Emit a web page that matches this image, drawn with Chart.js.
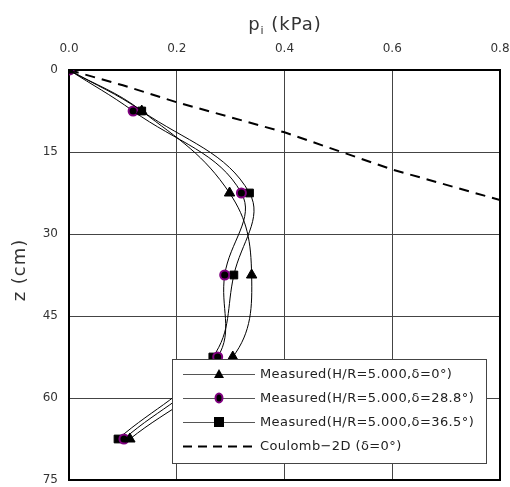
<!DOCTYPE html>
<html>
<head>
<meta charset="utf-8">
<script src="https://cdn.jsdelivr.net/npm/chart.js@4"></script>
<style>
  html, body { margin: 0; padding: 0; background: #fff; }
  #wrap { width: 510px; height: 487px; }
</style>
</head>
<body>
<div id="wrap"><canvas id="myChart" width="510" height="487"></canvas></div>
<script>
// depths (cm)
const depths = [0, 7.5, 22.5, 37.5, 52.5, 67.5];

// measured pressures (kPa)
const p_d0 = [0, 0.135, 0.298, 0.339, 0.304, 0.113];
const p_d288 = [0, 0.119, 0.320, 0.289, 0.276, 0.102];
const p_d365 = [0, 0.135, 0.335, 0.306, 0.267, 0.091];

// Coulomb-2D line
const coulombP = [0, 0.1, 0.2, 0.4, 0.6, 0.8];
const coulombZ = [0, 2.8, 5.9, 11.4, 18.2, 23.8];

const xTicks = [0, 0.2, 0.4, 0.6, 0.8];
const yTicks = [0, 15, 30, 45, 60, 75];

const legendLabels = [
  'Measured(H/R=5.000,\u03b4=0\u00b0)',
  'Measured(H/R=5.000,\u03b4=28.8\u00b0)',
  'Measured(H/R=5.000,\u03b4=36.5\u00b0)',
  'Coulomb\u22122D (\u03b4=0\u00b0)'
];

function pts(xs, ys) {
  return xs.map((v, i) => ({x: v, y: ys[i]}));
}

const font = '"DejaVu Sans", sans-serif';

const frame = {
  id: 'frame',
  beforeDatasetsDraw(chart) {
    const a = chart.chartArea, c = chart.ctx;
    c.save();
    c.strokeStyle = '#000';
    c.lineWidth = 2;
    c.strokeRect(a.left, a.top, a.right - a.left, a.bottom - a.top);
    c.restore();
  },
  afterDraw(chart) {
    const c = chart.ctx;
    c.save();
    c.letterSpacing = '1px';
    // x title with subscript
    c.fillStyle = '#333';
    c.textBaseline = 'alphabetic';
    c.font = '18px ' + font;
    const w1 = c.measureText('p').width;
    c.font = '11px ' + font;
    const w2 = c.measureText('i').width;
    c.font = '18px ' + font;
    const w3 = c.measureText(' (kPa)').width;
    let x0 = 285 - (w1 + w2 + w3) / 2;
    c.fillText('p', x0, 30);
    c.font = '11px ' + font;
    c.fillText('i', x0 + w1, 34);
    c.font = '18px ' + font;
    c.fillText(' (kPa)', x0 + w1 + w2, 30);
    // y title
    c.translate(25, 270);
    c.rotate(-Math.PI / 2);
    c.textAlign = 'center';
    c.fillText('z (cm)', 0, 0);
    c.restore();

    // legend
    c.save();
    const lx = 172, ly = 359, lw = 314, lh = 104;
    c.fillStyle = '#fff';
    c.fillRect(lx, ly, lw, lh);
    c.strokeStyle = '#444';
    c.lineWidth = 1;
    c.strokeRect(lx + 0.5, ly + 0.5, lw, lh);
    const rows = [374, 398, 422, 446];
    rows.forEach((ry, i) => {
      c.strokeStyle = i < 3 ? '#555' : '#000';
      c.lineWidth = i < 3 ? 1 : 2;
      c.setLineDash(i < 3 ? [] : [9, 6]);
      c.beginPath();
      c.moveTo(183, ry + 0.5);
      c.lineTo(255, ry + 0.5);
      c.stroke();
      c.setLineDash([]);
      const cx = 219;
      if (i === 0) {
        c.fillStyle = '#000';
        c.beginPath();
        c.moveTo(cx, ry - 5); c.lineTo(cx + 5, ry + 4); c.lineTo(cx - 5, ry + 4);
        c.closePath(); c.fill();
      } else if (i === 1) {
        c.fillStyle = '#000';
        c.strokeStyle = '#800080';
        c.lineWidth = 2;
        c.beginPath(); c.ellipse(cx, ry, 3.5, 4.5, 0, 0, Math.PI * 2);
        c.fill(); c.stroke();
      } else if (i === 2) {
        c.fillStyle = '#000';
        c.fillRect(cx - 5, ry - 5, 10, 10);
      }
      c.fillStyle = '#222';
      c.font = '13px ' + font;
      c.letterSpacing = '0.4px';
      c.textBaseline = 'middle';
      c.fillText(legendLabels[i], 260, ry + 1);
      c.letterSpacing = '0px';
    });
    c.restore();
  }
};

new Chart(document.getElementById('myChart'), {
  type: 'scatter',
  data: {
    datasets: [
      {
        label: legendLabels[0],
        data: pts(p_d0, depths),
        showLine: true, tension: 0.4,
        borderColor: '#000', borderWidth: 1,
        pointStyle: 'triangle', pointRadius: 6,
        pointBackgroundColor: '#000', pointBorderColor: '#000', pointBorderWidth: 1
      },
      {
        label: legendLabels[1],
        data: pts(p_d288, depths),
        showLine: true, tension: 0.4,
        borderColor: '#000', borderWidth: 1,
        pointStyle: 'circle', pointRadius: 4.5,
        pointBackgroundColor: '#000', pointBorderColor: '#800080', pointBorderWidth: 2
      },
      {
        label: legendLabels[2],
        data: pts(p_d365, depths),
        showLine: true, tension: 0.4,
        borderColor: '#000', borderWidth: 1,
        pointStyle: 'rect', pointRadius: 5.5,
        pointBackgroundColor: '#000', pointBorderColor: '#000', pointBorderWidth: 1
      },
      {
        label: legendLabels[3],
        data: pts(coulombP, coulombZ),
        showLine: true, tension: 0,
        borderColor: '#000', borderWidth: 2, borderDash: [10, 7],
        pointRadius: 0
      }
    ]
  },
  options: {
    responsive: false,
    animation: false,
    layout: { padding: { top: 0, right: 10, bottom: 7, left: 0 } },
    plugins: { legend: { display: false }, tooltip: { enabled: false } },
    scales: {
      x: {
        type: 'linear', position: 'top',
        min: 0, max: 0.8,
        afterBuildTicks: (s) => { s.ticks = xTicks.map(v => ({value: v})); },
        afterFit: (s) => { s.height = 70; s.paddingLeft = 0; s.paddingRight = 0; },
        grid: { color: '#444', lineWidth: 1, drawTicks: false },
        border: { display: false },
        ticks: {
          color: '#333', font: { family: font, size: 12 }, padding: 14,
          callback: (v) => v.toFixed(1)
        }
      },
      y: {
        type: 'linear', reverse: true,
        min: 0, max: 75,
        afterBuildTicks: (s) => { s.ticks = yTicks.map(v => ({value: v})); },
        afterFit: (s) => { s.width = 69; s.paddingTop = 0; s.paddingBottom = 0; },
        grid: { color: '#444', lineWidth: 1, drawTicks: false },
        border: { display: false },
        ticks: { color: '#333', font: { family: font, size: 12 }, padding: 11 }
      }
    }
  },
  plugins: [frame]
});
</script>
</body>
</html>
